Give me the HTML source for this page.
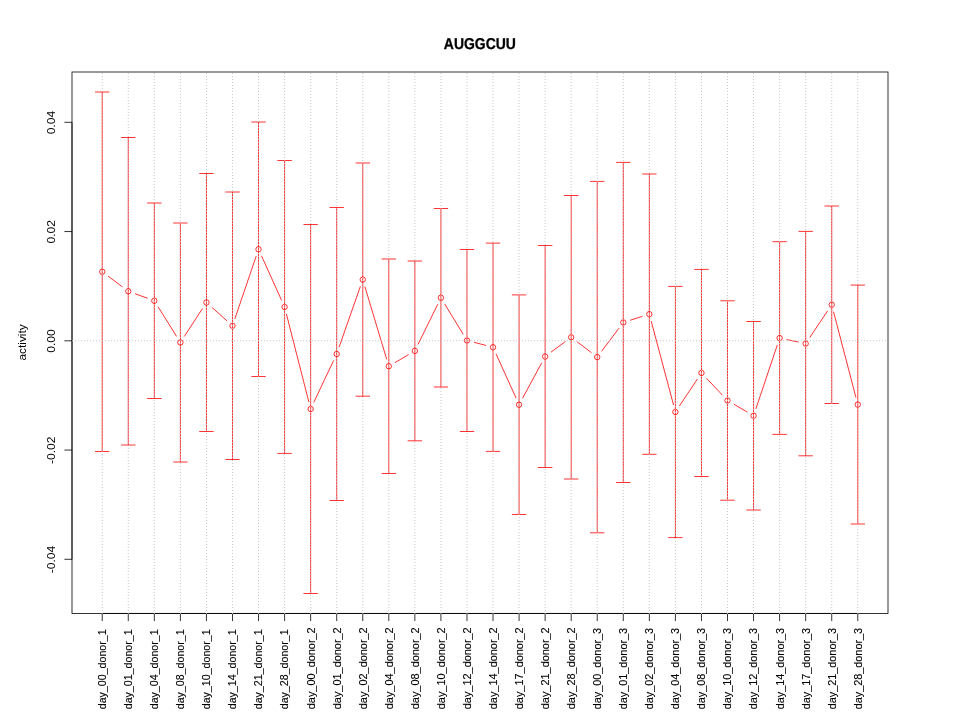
<!DOCTYPE html>
<html lang="en"><head><meta charset="utf-8"><title>AUGGCUU</title>
<style>
html,body{margin:0;padding:0;background:#fff;}
body{width:960px;height:720px;overflow:hidden;}
#plot{width:960px;height:720px;will-change:transform;}
svg{display:block;}
text{font-family:"Liberation Sans",Arial,Helvetica,sans-serif;fill:#000;}
.t{font-weight:bold;font-size:15.7px;text-anchor:middle;text-rendering:geometricPrecision;stroke:#000;stroke-width:0.3px;}
.yl{font-size:12px;text-anchor:middle;}
.yt{font-size:12px;text-anchor:middle;}
.xt{font-size:10.8px;text-anchor:end;stroke:#000;stroke-width:0.12px;}
.g{stroke:#bebebe;stroke-width:0.85;stroke-dasharray:1 2;fill:none;}
.r{stroke:#ff0000;stroke-width:0.8;fill:none;stroke-linecap:butt;}
.b{stroke:#000;stroke-width:0.8;fill:none;}
.a{stroke:#000;stroke-width:0.8;fill:none;}
</style></head><body>
<div id="plot">
<svg width="960" height="720" viewBox="0 0 960 720">
<rect x="0" y="0" width="960" height="720" fill="#ffffff"/>
<text class="t" transform="translate(479.9,48.9) scale(0.889,1)">AUGGCUU</text>
<text class="yl" transform="translate(26.1,342.4) rotate(-90) scale(0.99,0.9)">activity</text>
<rect class="b" x="72" y="72" width="816" height="541.44"/>
<g class="a">
<line x1="102.22" y1="613.44" x2="857.78" y2="613.44"/>
<line x1="102.22" y1="613.44" x2="102.22" y2="621.04"/>
<line x1="128.28" y1="613.44" x2="128.28" y2="621.04"/>
<line x1="154.33" y1="613.44" x2="154.33" y2="621.04"/>
<line x1="180.38" y1="613.44" x2="180.38" y2="621.04"/>
<line x1="206.44" y1="613.44" x2="206.44" y2="621.04"/>
<line x1="232.49" y1="613.44" x2="232.49" y2="621.04"/>
<line x1="258.54" y1="613.44" x2="258.54" y2="621.04"/>
<line x1="284.6" y1="613.44" x2="284.6" y2="621.04"/>
<line x1="310.65" y1="613.44" x2="310.65" y2="621.04"/>
<line x1="336.7" y1="613.44" x2="336.7" y2="621.04"/>
<line x1="362.76" y1="613.44" x2="362.76" y2="621.04"/>
<line x1="388.81" y1="613.44" x2="388.81" y2="621.04"/>
<line x1="414.87" y1="613.44" x2="414.87" y2="621.04"/>
<line x1="440.92" y1="613.44" x2="440.92" y2="621.04"/>
<line x1="466.97" y1="613.44" x2="466.97" y2="621.04"/>
<line x1="493.03" y1="613.44" x2="493.03" y2="621.04"/>
<line x1="519.08" y1="613.44" x2="519.08" y2="621.04"/>
<line x1="545.13" y1="613.44" x2="545.13" y2="621.04"/>
<line x1="571.19" y1="613.44" x2="571.19" y2="621.04"/>
<line x1="597.24" y1="613.44" x2="597.24" y2="621.04"/>
<line x1="623.3" y1="613.44" x2="623.3" y2="621.04"/>
<line x1="649.35" y1="613.44" x2="649.35" y2="621.04"/>
<line x1="675.4" y1="613.44" x2="675.4" y2="621.04"/>
<line x1="701.46" y1="613.44" x2="701.46" y2="621.04"/>
<line x1="727.51" y1="613.44" x2="727.51" y2="621.04"/>
<line x1="753.56" y1="613.44" x2="753.56" y2="621.04"/>
<line x1="779.62" y1="613.44" x2="779.62" y2="621.04"/>
<line x1="805.67" y1="613.44" x2="805.67" y2="621.04"/>
<line x1="831.72" y1="613.44" x2="831.72" y2="621.04"/>
<line x1="857.78" y1="613.44" x2="857.78" y2="621.04"/>
<line x1="72" y1="122.3" x2="72" y2="559.3"/>
<line x1="72" y1="122.3" x2="64.4" y2="122.3"/>
<line x1="72" y1="231.55" x2="64.4" y2="231.55"/>
<line x1="72" y1="340.8" x2="64.4" y2="340.8"/>
<line x1="72" y1="450.05" x2="64.4" y2="450.05"/>
<line x1="72" y1="559.3" x2="64.4" y2="559.3"/>
</g>
<text class="yt" transform="translate(55,122.5) rotate(-90) scale(1.005,0.89)">0.04</text>
<text class="yt" transform="translate(55,231.75) rotate(-90) scale(1.005,0.89)">0.02</text>
<text class="yt" transform="translate(55,341) rotate(-90) scale(1.005,0.89)">0.00</text>
<text class="yt" transform="translate(55,450.25) rotate(-90) scale(1.005,0.89)">-0.02</text>
<text class="yt" transform="translate(55,559.5) rotate(-90) scale(1.005,0.89)">-0.04</text>
<text class="xt" transform="translate(106,629.35) rotate(-90) scale(0.9860,0.975)">day_00_donor_1</text>
<text class="xt" transform="translate(132,629.35) rotate(-90) scale(0.9860,0.975)">day_01_donor_1</text>
<text class="xt" transform="translate(158,629.35) rotate(-90) scale(0.9860,0.975)">day_04_donor_1</text>
<text class="xt" transform="translate(184,629.35) rotate(-90) scale(0.9860,0.975)">day_08_donor_1</text>
<text class="xt" transform="translate(210,629.35) rotate(-90) scale(0.9860,0.975)">day_10_donor_1</text>
<text class="xt" transform="translate(236,629.35) rotate(-90) scale(0.9860,0.975)">day_14_donor_1</text>
<text class="xt" transform="translate(262,629.35) rotate(-90) scale(0.9860,0.975)">day_21_donor_1</text>
<text class="xt" transform="translate(288,629.35) rotate(-90) scale(0.9860,0.975)">day_28_donor_1</text>
<text class="xt" transform="translate(315,627.3) rotate(-90) scale(1.0120,0.975)">day_00_donor_2</text>
<text class="xt" transform="translate(341,627.3) rotate(-90) scale(1.0120,0.975)">day_01_donor_2</text>
<text class="xt" transform="translate(367,627.3) rotate(-90) scale(1.0120,0.975)">day_02_donor_2</text>
<text class="xt" transform="translate(393,627.3) rotate(-90) scale(1.0120,0.975)">day_04_donor_2</text>
<text class="xt" transform="translate(419,627.3) rotate(-90) scale(1.0120,0.975)">day_08_donor_2</text>
<text class="xt" transform="translate(445,627.3) rotate(-90) scale(1.0120,0.975)">day_10_donor_2</text>
<text class="xt" transform="translate(471,627.3) rotate(-90) scale(1.0120,0.975)">day_12_donor_2</text>
<text class="xt" transform="translate(497,627.3) rotate(-90) scale(1.0120,0.975)">day_14_donor_2</text>
<text class="xt" transform="translate(523,627.3) rotate(-90) scale(1.0120,0.975)">day_17_donor_2</text>
<text class="xt" transform="translate(549,627.3) rotate(-90) scale(1.0120,0.975)">day_21_donor_2</text>
<text class="xt" transform="translate(575,627.3) rotate(-90) scale(1.0120,0.975)">day_28_donor_2</text>
<text class="xt" transform="translate(601,627.9) rotate(-90) scale(1.0045,0.975)">day_00_donor_3</text>
<text class="xt" transform="translate(627,627.9) rotate(-90) scale(1.0045,0.975)">day_01_donor_3</text>
<text class="xt" transform="translate(653,627.9) rotate(-90) scale(1.0045,0.975)">day_02_donor_3</text>
<text class="xt" transform="translate(679,627.9) rotate(-90) scale(1.0045,0.975)">day_04_donor_3</text>
<text class="xt" transform="translate(705,627.9) rotate(-90) scale(1.0045,0.975)">day_08_donor_3</text>
<text class="xt" transform="translate(731,627.9) rotate(-90) scale(1.0045,0.975)">day_10_donor_3</text>
<text class="xt" transform="translate(757,627.9) rotate(-90) scale(1.0045,0.975)">day_12_donor_3</text>
<text class="xt" transform="translate(784,627.9) rotate(-90) scale(1.0045,0.975)">day_14_donor_3</text>
<text class="xt" transform="translate(810,627.9) rotate(-90) scale(1.0045,0.975)">day_17_donor_3</text>
<text class="xt" transform="translate(836,627.9) rotate(-90) scale(1.0045,0.975)">day_21_donor_3</text>
<text class="xt" transform="translate(862,627.9) rotate(-90) scale(1.0045,0.975)">day_28_donor_3</text>
<g class="r">
<line x1="107.99" y1="276.06" x2="122.51" y2="286.94"/>
<line x1="135.04" y1="293.72" x2="147.57" y2="298.28"/>
<line x1="158.14" y1="306.86" x2="176.57" y2="336.39"/>
<line x1="184.31" y1="336.47" x2="202.51" y2="308.53"/>
<line x1="211.81" y1="307.29" x2="227.12" y2="320.96"/>
<line x1="234.81" y1="318.93" x2="256.22" y2="256.07"/>
<line x1="261.51" y1="255.81" x2="281.63" y2="300.39"/>
<line x1="286.38" y1="313.93" x2="308.87" y2="402.02"/>
<line x1="313.73" y1="402.49" x2="333.62" y2="360.51"/>
<line x1="339.08" y1="347.2" x2="360.38" y2="286.4"/>
<line x1="364.83" y1="286.5" x2="386.74" y2="359.35"/>
<line x1="395.02" y1="362.6" x2="408.66" y2="354.55"/>
<line x1="418.04" y1="344.43" x2="437.75" y2="304.22"/>
<line x1="444.67" y1="303.9" x2="463.23" y2="334.35"/>
<line x1="473.94" y1="342.31" x2="486.06" y2="345.44"/>
<line x1="496" y1="353.81" x2="516.11" y2="398.14"/>
<line x1="522.5" y1="398.37" x2="541.71" y2="362.83"/>
<line x1="550.92" y1="352.22" x2="565.4" y2="341.53"/>
<line x1="576.91" y1="341.61" x2="591.51" y2="352.74"/>
<line x1="601.57" y1="351.35" x2="618.97" y2="328.2"/>
<line x1="630.16" y1="320.26" x2="642.49" y2="316.34"/>
<line x1="651.2" y1="321.11" x2="673.55" y2="405.04"/>
<line x1="679.4" y1="406.01" x2="697.46" y2="378.94"/>
<line x1="706.4" y1="378.18" x2="722.56" y2="395.27"/>
<line x1="733.72" y1="404.14" x2="747.35" y2="412.11"/>
<line x1="755.85" y1="408.92" x2="777.33" y2="344.88"/>
<line x1="786.66" y1="339.55" x2="798.63" y2="342.1"/>
<line x1="809.68" y1="337.62" x2="827.71" y2="310.73"/>
<line x1="833.54" y1="311.72" x2="855.96" y2="397.58"/>
<circle cx="102.22" cy="271.75" r="2.7"/>
<circle cx="128.28" cy="291.25" r="2.7"/>
<circle cx="154.33" cy="300.75" r="2.7"/>
<circle cx="180.38" cy="342.5" r="2.7"/>
<circle cx="206.44" cy="302.5" r="2.7"/>
<circle cx="232.49" cy="325.75" r="2.7"/>
<circle cx="258.54" cy="249.25" r="2.7"/>
<circle cx="284.6" cy="306.95" r="2.7"/>
<circle cx="310.65" cy="409" r="2.7"/>
<circle cx="336.7" cy="354" r="2.7"/>
<circle cx="362.76" cy="279.6" r="2.7"/>
<circle cx="388.81" cy="366.25" r="2.7"/>
<circle cx="414.87" cy="350.9" r="2.7"/>
<circle cx="440.92" cy="297.75" r="2.7"/>
<circle cx="466.97" cy="340.5" r="2.7"/>
<circle cx="493.03" cy="347.25" r="2.7"/>
<circle cx="519.08" cy="404.7" r="2.7"/>
<circle cx="545.13" cy="356.5" r="2.7"/>
<circle cx="571.19" cy="337.25" r="2.7"/>
<circle cx="597.24" cy="357.1" r="2.7"/>
<circle cx="623.3" cy="322.45" r="2.7"/>
<circle cx="649.35" cy="314.15" r="2.7"/>
<circle cx="675.4" cy="412" r="2.7"/>
<circle cx="701.46" cy="372.95" r="2.7"/>
<circle cx="727.51" cy="400.5" r="2.7"/>
<circle cx="753.56" cy="415.75" r="2.7"/>
<circle cx="779.62" cy="338.05" r="2.7"/>
<circle cx="805.67" cy="343.6" r="2.7"/>
<circle cx="831.72" cy="304.75" r="2.7"/>
<circle cx="857.78" cy="404.55" r="2.7"/>
<path d="M95.02 92H109.42M102.22 92V451.5M95.02 451.5H109.42"/>
<path d="M121.08 137.5H135.48M128.28 137.5V445M121.08 445H135.48"/>
<path d="M147.13 203H161.53M154.33 203V398.5M147.13 398.5H161.53"/>
<path d="M173.18 223H187.58M180.38 223V462M173.18 462H187.58"/>
<path d="M199.24 173.5H213.64M206.44 173.5V431.5M199.24 431.5H213.64"/>
<path d="M225.29 192H239.69M232.49 192V459.5M225.29 459.5H239.69"/>
<path d="M251.34 122H265.74M258.54 122V376.5M251.34 376.5H265.74"/>
<path d="M277.4 160.5H291.8M284.6 160.5V453.4M277.4 453.4H291.8"/>
<path d="M303.45 224.5H317.85M310.65 224.5V593.5M303.45 593.5H317.85"/>
<path d="M329.5 207.5H343.9M336.7 207.5V500.5M329.5 500.5H343.9"/>
<path d="M355.56 163H369.96M362.76 163V396.2M355.56 396.2H369.96"/>
<path d="M381.61 259H396.01M388.81 259V473.5M381.61 473.5H396.01"/>
<path d="M407.67 261H422.07M414.87 261V440.8M407.67 440.8H422.07"/>
<path d="M433.72 208.5H448.12M440.92 208.5V387M433.72 387H448.12"/>
<path d="M459.77 249.5H474.17M466.97 249.5V431.5M459.77 431.5H474.17"/>
<path d="M485.83 243.1H500.23M493.03 243.1V451.4M485.83 451.4H500.23"/>
<path d="M511.88 294.9H526.28M519.08 294.9V514.5M511.88 514.5H526.28"/>
<path d="M537.93 245.5H552.33M545.13 245.5V467.5M537.93 467.5H552.33"/>
<path d="M563.99 195.5H578.39M571.19 195.5V479M563.99 479H578.39"/>
<path d="M590.04 181.4H604.44M597.24 181.4V532.8M590.04 532.8H604.44"/>
<path d="M616.1 162.4H630.5M623.3 162.4V482.5M616.1 482.5H630.5"/>
<path d="M642.15 174H656.55M649.35 174V454.3M642.15 454.3H656.55"/>
<path d="M668.2 286.4H682.6M675.4 286.4V537.6M668.2 537.6H682.6"/>
<path d="M694.26 269.4H708.66M701.46 269.4V476.5M694.26 476.5H708.66"/>
<path d="M720.31 300.8H734.71M727.51 300.8V500.2M720.31 500.2H734.71"/>
<path d="M746.36 321.5H760.76M753.56 321.5V510M746.36 510H760.76"/>
<path d="M772.42 241.7H786.82M779.62 241.7V434.4M772.42 434.4H786.82"/>
<path d="M798.47 231.4H812.87M805.67 231.4V455.8M798.47 455.8H812.87"/>
<path d="M824.52 206H838.92M831.72 206V403.5M824.52 403.5H838.92"/>
<path d="M850.58 285.1H864.98M857.78 285.1V524M850.58 524H864.98"/>
</g>
<g class="g">
<line x1="102.22" y1="614" x2="102.22" y2="72"/>
<line x1="128.28" y1="614" x2="128.28" y2="72"/>
<line x1="154.33" y1="614" x2="154.33" y2="72"/>
<line x1="180.38" y1="614" x2="180.38" y2="72"/>
<line x1="206.44" y1="614" x2="206.44" y2="72"/>
<line x1="232.49" y1="614" x2="232.49" y2="72"/>
<line x1="258.54" y1="614" x2="258.54" y2="72"/>
<line x1="284.6" y1="614" x2="284.6" y2="72"/>
<line x1="310.65" y1="614" x2="310.65" y2="72"/>
<line x1="336.7" y1="614" x2="336.7" y2="72"/>
<line x1="362.76" y1="614" x2="362.76" y2="72"/>
<line x1="388.81" y1="614" x2="388.81" y2="72"/>
<line x1="414.87" y1="614" x2="414.87" y2="72"/>
<line x1="440.92" y1="614" x2="440.92" y2="72"/>
<line x1="466.97" y1="614" x2="466.97" y2="72"/>
<line x1="493.03" y1="614" x2="493.03" y2="72"/>
<line x1="519.08" y1="614" x2="519.08" y2="72"/>
<line x1="545.13" y1="614" x2="545.13" y2="72"/>
<line x1="571.19" y1="614" x2="571.19" y2="72"/>
<line x1="597.24" y1="614" x2="597.24" y2="72"/>
<line x1="623.3" y1="614" x2="623.3" y2="72"/>
<line x1="649.35" y1="614" x2="649.35" y2="72"/>
<line x1="675.4" y1="614" x2="675.4" y2="72"/>
<line x1="701.46" y1="614" x2="701.46" y2="72"/>
<line x1="727.51" y1="614" x2="727.51" y2="72"/>
<line x1="753.56" y1="614" x2="753.56" y2="72"/>
<line x1="779.62" y1="614" x2="779.62" y2="72"/>
<line x1="805.67" y1="614" x2="805.67" y2="72"/>
<line x1="831.72" y1="614" x2="831.72" y2="72"/>
<line x1="857.78" y1="614" x2="857.78" y2="72"/>
<line x1="72" y1="340.72" x2="888" y2="340.72"/>
</g>
</svg>
</div>
</body></html>
